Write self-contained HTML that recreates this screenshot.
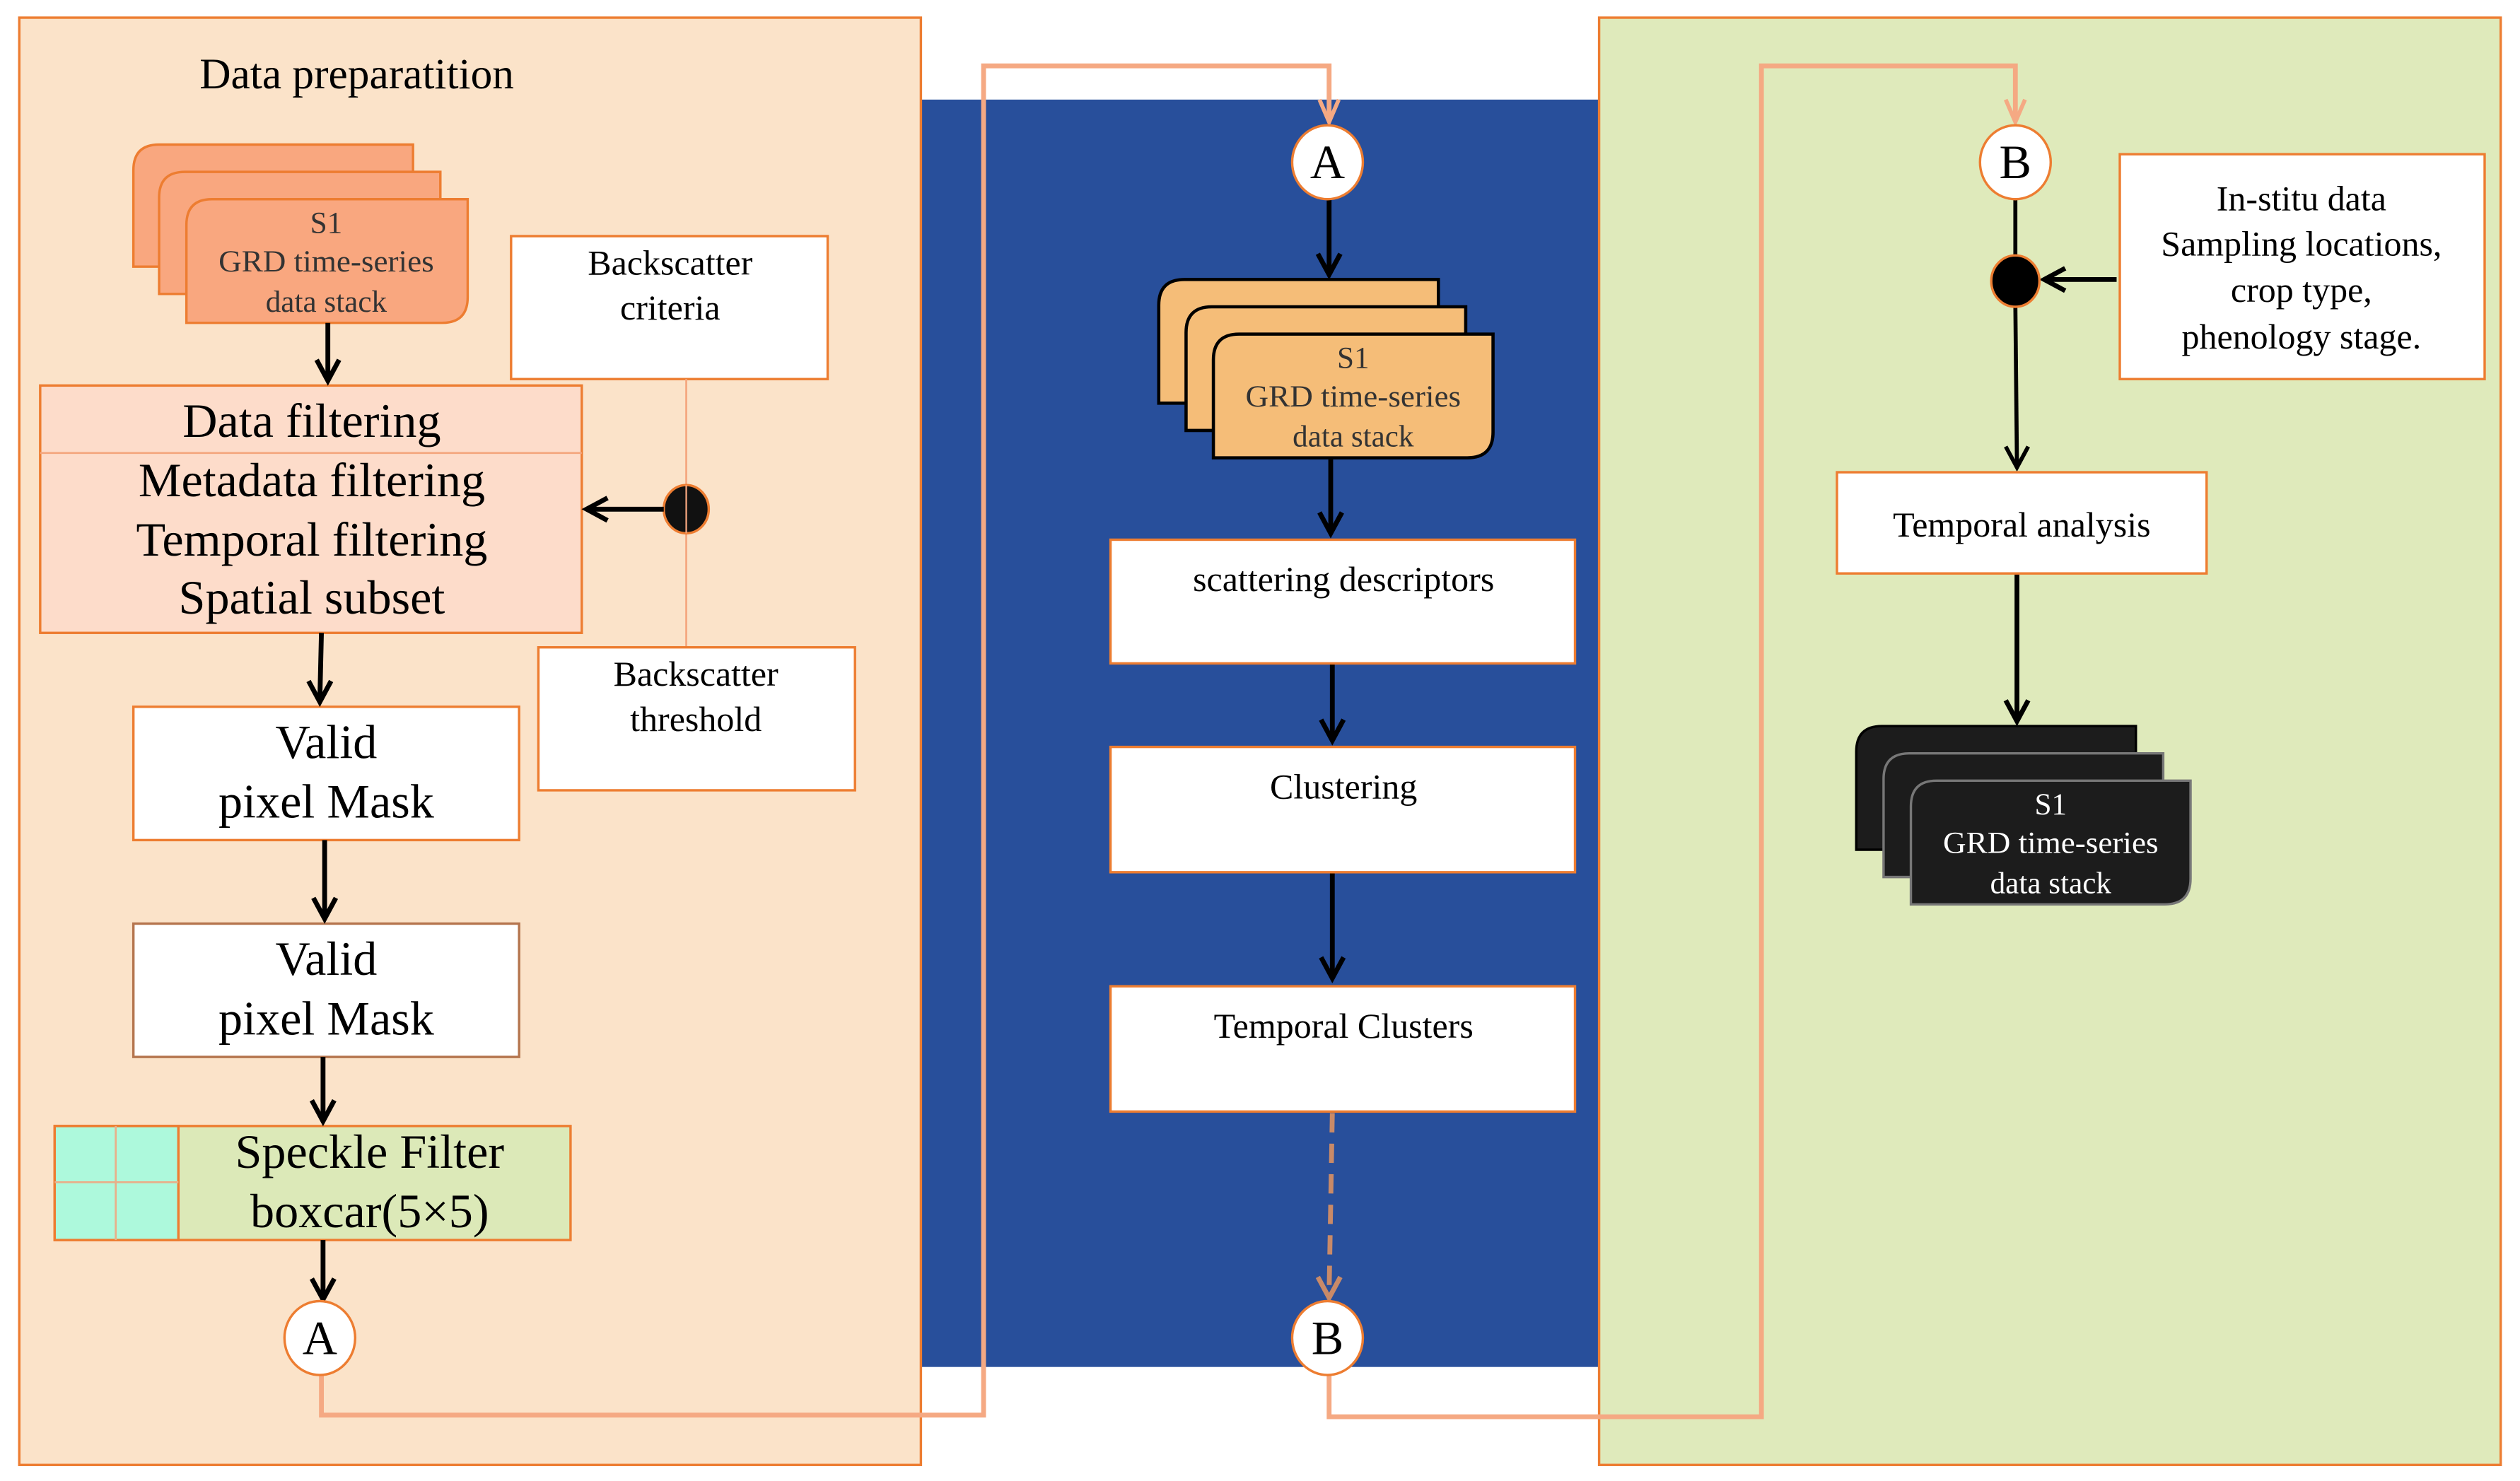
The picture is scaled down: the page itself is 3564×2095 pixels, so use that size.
<!DOCTYPE html>
<html><head><meta charset="utf-8"><style>html,body{margin:0;padding:0;background:#fff}svg{display:block}svg text{font-family:"Liberation Serif","Times New Roman",serif}</style></head>
<body>
<svg width="3564" height="2095" viewBox="0 0 1568 922" preserveAspectRatio="none" xmlns="http://www.w3.org/2000/svg" style="font-family:'Liberation Serif',serif">
<rect width="1568" height="922" fill="#fff"/>
<rect x="572" y="62" width="424" height="789" fill="#284f9b"/>
<rect x="12" y="11" width="561" height="901" fill="#fbe3c9" stroke="#ed7d31" stroke-width="1.5"/>
<rect x="995" y="11" width="561" height="901" fill="#dfeabb" stroke="#ed7d31" stroke-width="1.5"/>

<text x="222" y="55" font-size="27" text-anchor="middle">Data preparatition</text>

<g fill="#f9a77f" stroke="#ed7d31" stroke-width="1.5">
<path d="M83,166 L83,106 Q83,90 99,90 L257,90 L257,150 Q257,166 241,166 Z"/>
<path d="M99,183 L99,123 Q99,107 115,107 L274,107 L274,167 Q274,183 258,183 Z"/>
<path d="M116,201 L116,140 Q116,124 132,124 L291,124 L291,185 Q291,201 275,201 Z"/>
</g>
<g font-size="19" text-anchor="middle" fill="#333" textLength="0"><text x="203" y="145">S1</text><text x="203" y="169" textLength="134" lengthAdjust="spacingAndGlyphs">GRD time-series</text><text x="203" y="194">data stack</text></g>

<rect x="318" y="147" width="197" height="89" fill="#fff" stroke="#ed7d31" stroke-width="1.5"/>
<g font-size="22" text-anchor="middle"><text x="417" y="171">Backscatter</text><text x="417" y="199">criteria</text></g>
<line x1="427" y1="236" x2="427" y2="403" stroke="#f4a77f" stroke-width="1.2"/>
<rect x="335" y="403" width="197" height="89" fill="#fff" stroke="#ed7d31" stroke-width="1.5"/>
<g font-size="22" text-anchor="middle"><text x="433" y="427">Backscatter</text><text x="433" y="455">threshold</text></g>
<ellipse cx="427" cy="317" rx="14" ry="15" fill="#111" stroke="#ed7d31" stroke-width="1.5"/>
<line x1="427" y1="302" x2="427" y2="332" stroke="#f4a77f" stroke-width="1"/>

<rect x="25" y="240" width="337" height="154" fill="#fddcca" stroke="#ed7d31" stroke-width="1.5"/>
<line x1="25" y1="282" x2="362" y2="282" stroke="#f4a77f" stroke-width="1.2"/>
<g font-size="30" text-anchor="middle"><text x="194" y="272">Data filtering</text><text x="194" y="309">Metadata filtering</text><text x="194" y="346">Temporal filtering</text><text x="194" y="382">Spatial subset</text></g>

<rect x="83" y="440" width="240" height="83" fill="#fff" stroke="#ed7d31" stroke-width="1.5"/>
<g font-size="30" text-anchor="middle"><text x="203" y="472">Valid</text><text x="203" y="509">pixel Mask</text></g>
<rect x="83" y="575" width="240" height="83" fill="#fff" stroke="#b5754e" stroke-width="1.5"/>
<g font-size="30" text-anchor="middle"><text x="203" y="607">Valid</text><text x="203" y="644">pixel Mask</text></g>

<rect x="34" y="701" width="321" height="71" fill="#dce9b8" stroke="#ed7d31" stroke-width="1.5"/>
<rect x="34" y="701" width="77" height="71" fill="#adf9dc" stroke="#ed7d31" stroke-width="1.5"/>
<line x1="72" y1="701" x2="72" y2="772" stroke="#e8b08a" stroke-width="1.2"/>
<line x1="34" y1="736" x2="111" y2="736" stroke="#e8b08a" stroke-width="1.2"/>
<g font-size="30" text-anchor="middle"><text x="230" y="727">Speckle Filter</text><text x="230" y="764">boxcar(5×5)</text></g>

<g fill="none" stroke="#f5a983" stroke-width="3">
<polyline points="200,856 200,881 612,881 612,41 827,41 827,74"/>
<polyline points="827,856 827,882 1096,882 1096,41 1254,41 1254,74"/>
</g>
<g fill="none" stroke="#f5a983" stroke-width="2.5"><polyline points="821,62 827,76 833,62"/><polyline points="1248,62 1254,76 1260,62"/></g>

<g stroke="#000" stroke-width="3" fill="none">
<line x1="204" y1="201" x2="204" y2="236"/><polyline points="197,224 204,237 211,224"/>
<line x1="200" y1="394" x2="199" y2="436"/><polyline points="192,424 199,437 206,424"/>
<line x1="202" y1="523" x2="202" y2="571"/><polyline points="195,559 202,572 209,559"/>
<line x1="201" y1="658" x2="201" y2="697"/><polyline points="194,685 201,698 208,685"/>
<line x1="201" y1="772" x2="201" y2="808"/><polyline points="194,796 201,809 208,796"/>
<line x1="413" y1="317" x2="366" y2="317"/><polyline points="378,310 365,317 378,324"/>
<line x1="827" y1="123" x2="827" y2="170"/><polyline points="820,158 827,171 834,158"/>
<line x1="828" y1="286" x2="828" y2="331"/><polyline points="821,319 828,332 835,319"/>
<line x1="829" y1="413" x2="829" y2="460"/><polyline points="822,448 829,461 836,448"/>
<line x1="829" y1="543" x2="829" y2="608"/><polyline points="822,596 829,609 836,596"/>
<line x1="1317" y1="174" x2="1274" y2="174"/><polyline points="1285,167 1272,174 1285,181"/>
<line x1="1255" y1="357" x2="1255" y2="448"/><polyline points="1248,436 1255,449 1262,436"/>
</g>
<g stroke="#000" stroke-width="2.5" fill="none">
<line x1="1254" y1="123" x2="1254" y2="160"/>
<line x1="1254" y1="190" x2="1255" y2="290"/><polyline points="1248,278 1255,291 1262,278"/>
</g>
<line x1="829" y1="693" x2="827" y2="805" stroke="#c98a68" stroke-width="3" stroke-dasharray="12,7"/>
<polyline points="820,795 827,808 834,795" fill="none" stroke="#c98a68" stroke-width="3"/>

<g fill="#fff" stroke="#ed7d31" stroke-width="1.5">
<ellipse cx="199" cy="833" rx="22" ry="23"/>
<ellipse cx="826" cy="101" rx="22" ry="23"/>
<ellipse cx="826" cy="833" rx="22" ry="23"/>
<ellipse cx="1254" cy="101" rx="22" ry="23"/>
</g>
<g font-size="30" text-anchor="middle"><text x="199" y="843">A</text><text x="826" y="111">A</text><text x="826" y="843">B</text><text x="1254" y="111">B</text></g>
<ellipse cx="1254" cy="175" rx="15" ry="16" fill="#000" stroke="#ed7d31" stroke-width="1.5"/>

<g fill="#f5bd78" stroke="#000" stroke-width="2">
<path d="M721,251 L721,190 Q721,174 737,174 L895,174 L895,235 Q895,251 879,251 Z"/>
<path d="M738,268 L738,207 Q738,191 754,191 L912,191 L912,252 Q912,268 896,268 Z"/>
<path d="M755,285 L755,224 Q755,208 771,208 L929,208 L929,269 Q929,285 913,285 Z"/>
</g>
<g font-size="19" text-anchor="middle" fill="#333"><text x="842" y="229">S1</text><text x="842" y="253" textLength="134" lengthAdjust="spacingAndGlyphs">GRD time-series</text><text x="842" y="278">data stack</text></g>

<g fill="#fff" stroke="#ed7d31" stroke-width="1.5">
<rect x="691" y="336" width="289" height="77"/>
<rect x="691" y="465" width="289" height="78"/>
<rect x="691" y="614" width="289" height="78"/>
</g>
<g font-size="22" text-anchor="middle"><text x="836" y="368">scattering descriptors</text><text x="836" y="497">Clustering</text><text x="836" y="646">Temporal Clusters</text></g>

<rect x="1319" y="96" width="227" height="140" fill="#fff" stroke="#ed7d31" stroke-width="1.5"/>
<g font-size="22" text-anchor="middle"><text x="1432" y="131">In-stitu data</text><text x="1432" y="159">Sampling locations,</text><text x="1432" y="188">crop type,</text><text x="1432" y="217">phenology stage.</text></g>
<rect x="1143" y="294" width="230" height="63" fill="#fff" stroke="#ed7d31" stroke-width="1.5"/>
<text x="1258" y="334" font-size="22" text-anchor="middle">Temporal analysis</text>

<g fill="#1c1c1c" stroke="#777" stroke-width="1.5">
<path d="M1155,529 L1155,468 Q1155,452 1171,452 L1329,452 L1329,513 Q1329,529 1313,529 Z" stroke="#000"/>
<path d="M1172,546 L1172,485 Q1172,469 1188,469 L1346,469 L1346,530 Q1346,546 1330,546 Z"/>
<path d="M1189,563 L1189,502 Q1189,486 1205,486 L1363,486 L1363,547 Q1363,563 1347,563 Z"/>
</g>
<g font-size="19" text-anchor="middle" fill="#fff"><text x="1276" y="507">S1</text><text x="1276" y="531" textLength="134" lengthAdjust="spacingAndGlyphs">GRD time-series</text><text x="1276" y="556">data stack</text></g>
</svg>
</body></html>
